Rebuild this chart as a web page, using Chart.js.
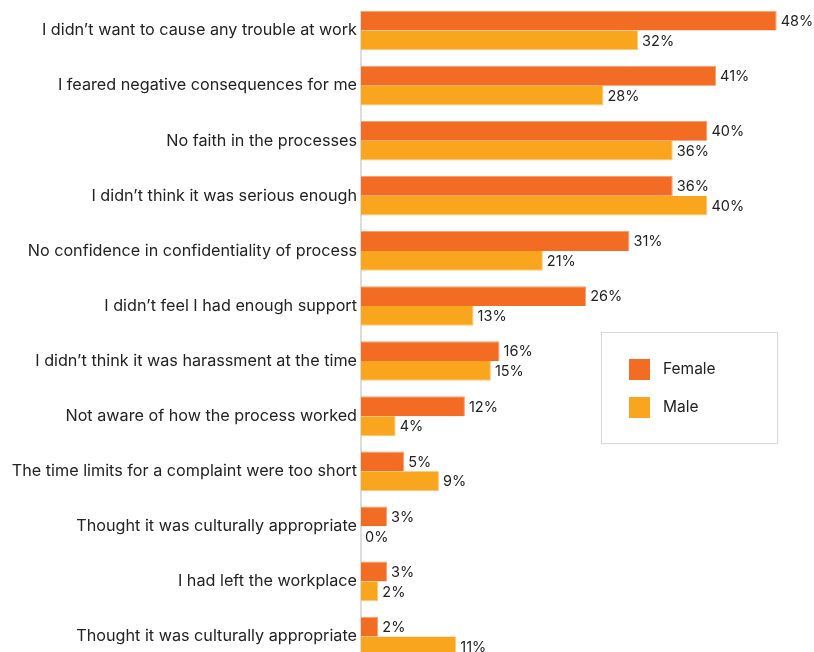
<!DOCTYPE html>
<html>
<head>
<meta charset="utf-8">
<script src="https://cdn.jsdelivr.net/npm/chart.js@4"></script>
<style>
  html, body { margin: 0; padding: 0; background: #fff; overflow: hidden; }
  #wrap { width: 814px; height: 664px; position: relative; }
</style>
</head>
<body>
<div id="wrap"><canvas id="chart"></canvas></div>
<script>
const categories = [
  "I didn’t want to cause any trouble at work",
  "I feared negative consequences for me",
  "No faith in the processes",
  "I didn’t think it was serious enough",
  "No confidence in confidentiality of process",
  "I didn’t feel I had enough support",
  "I didn’t think it was harassment at the time",
  "Not aware of how the process worked",
  "The time limits for a complaint were too short",
  "Thought it was culturally appropriate",
  "I had left the workplace",
  "Thought it was culturally appropriate"
];
const femaleValues = [48, 41, 40, 36, 31, 26, 16, 12, 5, 3, 3, 2];
const maleValues   = [32, 28, 36, 40, 21, 13, 15, 4, 9, 0, 2, 11];
const seriesNames  = ["Female", "Male"];

const FONT = "Inter, sans-serif";
const TEXT = "#232323";

// Baseline rule, starting at the top of the first bar
const baseline = {
  id: "baseline",
  beforeDatasetsDraw(chart) {
    const ctx = chart.ctx;
    const first = chart.getDatasetMeta(0).data[0];
    const x0 = chart.scales.x.getPixelForValue(0);
    ctx.save();
    ctx.strokeStyle = "#dcdcdc";
    ctx.lineWidth = 2;
    ctx.beginPath();
    ctx.moveTo(x0, first.y - first.height / 2);
    ctx.lineTo(x0, chart.chartArea.bottom);
    ctx.stroke();
    ctx.restore();
  }
};

// Percent labels at the end of each bar
const valueLabels = {
  id: "valueLabels",
  afterDatasetsDraw(chart) {
    const ctx = chart.ctx;
    ctx.save();
    ctx.font = "14.5px " + FONT;
    ctx.fillStyle = TEXT;
    ctx.textAlign = "left";
    ctx.textBaseline = "middle";
    chart.data.datasets.forEach((ds, di) => {
      chart.getDatasetMeta(di).data.forEach((bar, i) => {
        ctx.fillText(ds.data[i] + "%", bar.x + 4, bar.y + 1);
      });
    });
    ctx.restore();
  }
};

// Boxed legend inside the plot area
const boxLegend = {
  id: "boxLegend",
  afterDraw(chart) {
    const ctx = chart.ctx;
    const x = 601.5, y = 332.5, w = 176, h = 111;
    ctx.save();
    ctx.shadowColor = "rgba(0,0,0,0.08)";
    ctx.shadowBlur = 3;
    ctx.fillStyle = "#fff";
    ctx.fillRect(x, y, w, h);
    ctx.shadowColor = "transparent";
    ctx.strokeStyle = "#d9d9d9";
    ctx.lineWidth = 1;
    ctx.strokeRect(x, y, w, h);
    ctx.font = "15.5px " + FONT;
    ctx.textBaseline = "middle";
    chart.data.datasets.forEach((ds, i) => {
      const sy = 359 + i * 38;
      ctx.fillStyle = ds.backgroundColor;
      ctx.fillRect(629, sy, 21, 21);
      ctx.fillStyle = TEXT;
      ctx.fillText(ds.label, 663, sy + 10);
    });
    ctx.restore();
  }
};

new Chart(document.getElementById("chart"), {
  type: "bar",
  data: {
    labels: categories,
    datasets: [
      { label: seriesNames[0], data: femaleValues, backgroundColor: "#F36C23", borderColor: "#F7A070", borderWidth: { top: 1, right: 1, bottom: 0, left: 0 } },
      { label: seriesNames[1], data: maleValues,   backgroundColor: "#F9A61E", borderColor: "#FBC877", borderWidth: { top: 0, right: 1, bottom: 1, left: 0 } }
    ]
  },
  options: {
    indexAxis: "y",
    responsive: true,
    maintainAspectRatio: false,
    animation: false,
    layout: { padding: { top: 3, right: 20, bottom: 0, left: 0 } },
    datasets: { bar: { categoryPercentage: 0.72, barPercentage: 1.0 } },
    plugins: { legend: { display: false }, tooltip: { enabled: false } },
    scales: {
      x: { display: false, min: 0, max: 50 },
      y: {
        afterFit(scale) {
          scale.width = 361;
          scale.paddingTop = 0;
          scale.paddingBottom = 0;
        },
        grid: { display: false, drawTicks: false },
        border: { display: false },
        ticks: { color: TEXT, font: { family: FONT, size: 16.2 }, padding: 4, autoSkip: false }
      }
    }
  },
  plugins: [baseline, valueLabels, boxLegend]
});
</script>
</body>
</html>
